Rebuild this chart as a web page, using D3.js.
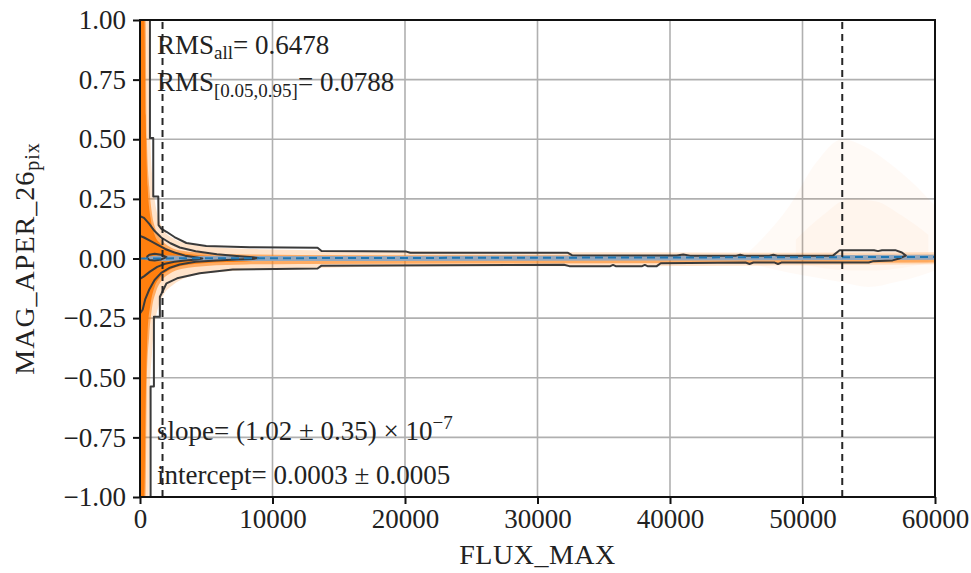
<!DOCTYPE html>
<html>
<head>
<meta charset="utf-8">
<script src="https://cdn.jsdelivr.net/npm/d3@7"></script>
<style>
  html, body { margin: 0; padding: 0; background: #fff; }
</style>
</head>
<body>
<svg id="chart" width="971" height="573"></svg>
<script>
// ---------------- data ----------------
const xTicks = [0, 10000, 20000, 30000, 40000, 50000, 60000];
const yTicks = [-1.0, -0.75, -0.5, -0.25, 0.0, 0.25, 0.5, 0.75, 1.0];
const yTickLabels = ["\u22121.00", "\u22120.75", "\u22120.50", "\u22120.25", "0.00", "0.25", "0.50", "0.75", "1.00"];

// orange density envelopes (FLUX_MAX, upper MAG, lower MAG)
const paleFlux = [0, 650, 760, 900, 1100, 1400, 1800, 2500, 3500, 5000, 7000, 9000, 13000, 20000, 35000, 50000, 60000];
const paleHi   = [1, 1, 0.55, 0.36, 0.25, 0.17, 0.12, 0.085, 0.064, 0.05, 0.043, 0.039, 0.035, 0.03, 0.026, 0.024, 0.026];
const paleLo   = [-1, -1, -0.55, -0.4, -0.28, -0.2, -0.15, -0.11, -0.08, -0.062, -0.052, -0.046, -0.04, -0.034, -0.032, -0.028, -0.024];

const midFlux = [0, 420, 520, 700, 900, 1200, 1600, 2200, 3200, 5000, 8000, 12000, 25000, 45000, 60000];
const midHi   = [1, 1, 0.5, 0.3, 0.19, 0.12, 0.08, 0.05, 0.032, 0.022, 0.017, 0.015, 0.014, 0.014, 0.016];
const midLo   = [-1, -1, -0.5, -0.32, -0.21, -0.14, -0.095, -0.065, -0.043, -0.031, -0.025, -0.023, -0.021, -0.019, -0.017];

const solidFlux = [0, 330, 430, 580, 800, 1100, 1500, 2100, 3000, 4500, 6500, 8500, 9500];
const solidHi   = [1, 1, 0.6, 0.3, 0.17, 0.1, 0.065, 0.04, 0.024, 0.014, 0.008, 0.004, 0];
const solidLo   = [-1, -1, -0.6, -0.3, -0.19, -0.12, -0.08, -0.052, -0.033, -0.021, -0.015, -0.01, 0];

// faint scatter cloud at bright fluxes
const blobFlux = [46000, 49000, 51000, 53000, 55000, 57000, 59000, 60000];
const blobHi   = [0.03, 0.22, 0.4, 0.5, 0.46, 0.38, 0.28, 0.22];
const blobLo   = [-0.02, -0.06, -0.08, -0.1, -0.12, -0.1, -0.07, -0.05];
const coreFlux = [49500, 51500, 53500, 55500, 57500, 59500];
const coreHi   = [0.08, 0.18, 0.25, 0.24, 0.18, 0.1];
const coreLo   = [-0.02, -0.04, -0.05, -0.05, -0.04, -0.02];

// blue band (binned running spread) around the fit
const bandFlux = [400, 1500, 3000, 9000, 30000, 60000];
const bandHi   = [0.006, 0.013, 0.012, 0.011, 0.012, 0.016];
const bandLo   = [-0.006, -0.012, -0.011, -0.011, -0.009, -0.005];

// linear fit line
const fitFlux = [0, 60000];
const fitMag  = [0.0003, 0.0064];

// vertical dashed limits
const limitFlux = [1700, 53000];

// density contours [FLUX_MAX, MAG]
const contour1 = [[750,1.0],[750,0.505],[1000,0.505],[1000,0.26],[1380,0.26],[1400,0.14],[1600,0.125],[2000,0.112],[2600,0.09],[3500,0.065],[5000,0.052],[8300,0.047],[13400,0.045],[13700,0.031],[20100,0.029],[20400,0.024],[32300,0.024],[32600,0.014],[40500,0.013],[41000,0.017],[41500,0.012],[45000,0.012],[45300,0.016],[45600,0.012],[47500,0.012],[47800,0.016],[48100,0.012],[52300,0.012],[52800,0.035],[55400,0.035],[55700,0.031],[56000,0.035],[57000,0.035],[57500,0.025],[57800,0.012],
  [57300,0.0],[56800,-0.008],[55300,-0.012],[55000,-0.017],[48400,-0.017],[48150,-0.023],[47900,-0.017],[46300,-0.017],[46000,-0.023],[45700,-0.017],[39300,-0.02],[39000,-0.032],[38300,-0.032],[38100,-0.027],[37900,-0.032],[35900,-0.032],[35700,-0.027],[35500,-0.032],[32400,-0.032],[32000,-0.026],[13700,-0.03],[13400,-0.042],[7000,-0.046],[4500,-0.062],[2800,-0.083],[2000,-0.104],[1600,-0.15],[1500,-0.16],[1500,-0.244],[1050,-0.244],[1050,-0.537],[800,-0.537],[800,-1.0]];
const contour2 = [[0,0.178],[300,0.17],[700,0.145],[1100,0.115],[1600,0.088],[2300,0.064],[3000,0.046],[4200,0.03],[5800,0.018],[7300,0.01],[8500,0.005],[8900,0.002],
  [8500,-0.002],[7300,-0.004],[5800,-0.008],[4200,-0.014],[3000,-0.025],[2200,-0.04],[1600,-0.06],[1100,-0.09],[700,-0.13],[400,-0.17],[200,-0.215],[0,-0.23]];
const contour3 = [[0,0.095],[300,0.088],[750,0.075],[1300,0.058],[1900,0.04],[2600,0.025],[3400,0.012],[4300,0.004],[4700,0.0],
  [4300,-0.004],[3400,-0.008],[2600,-0.014],[1900,-0.022],[1300,-0.035],[750,-0.055],[300,-0.075],[0,-0.085]];
const contour4 = [[500,0.006],[700,0.016],[1100,0.02],[1600,0.016],[2000,0.006],[1600,-0.004],[1100,-0.008],[700,-0.006],[500,0.006]];

// ---------------- drawing ----------------
const W = 971, H = 573;
const m = { left: 140, right: 36, top: 20, bottom: 76 };
const svg = d3.select("#chart");
const x = d3.scaleLinear().domain([0, 60000]).range([m.left, W - m.right]);
const y = d3.scaleLinear().domain([-1, 1]).range([H - m.bottom, m.top]);
const FONT = "'Liberation Serif', 'Times New Roman', serif";
const fs = 27;

svg.append("defs").append("clipPath").attr("id", "clip")
  .append("rect").attr("x", m.left).attr("y", m.top)
  .attr("width", W - m.left - m.right).attr("height", H - m.top - m.bottom);

// grid
const grid = svg.append("g");
grid.selectAll("line.gx").data(xTicks).join("line")
  .attr("x1", d => x(d)).attr("x2", d => x(d)).attr("y1", y(-1)).attr("y2", y(1))
  .attr("stroke", "#b0b0b0").attr("stroke-width", 1.6);
grid.selectAll("line.gy").data(yTicks).join("line")
  .attr("y1", d => y(d)).attr("y2", d => y(d)).attr("x1", x(0)).attr("x2", x(60000))
  .attr("stroke", "#b0b0b0").attr("stroke-width", 1.6);

const plot = svg.append("g").attr("clip-path", "url(#clip)");

function band(fx, hi, lo) {
  return fx.map((f, i) => ({ f, hi: hi[i], lo: lo[i] }));
}
const area = d3.area().x(d => x(d.f)).y0(d => y(d.lo)).y1(d => y(d.hi)).curve(d3.curveMonotoneX);

plot.append("path").datum(band(blobFlux, blobHi, blobLo)).attr("d", area)
  .attr("fill", "#ff7f0e").attr("opacity", 0.035);
plot.append("path").datum(band(coreFlux, coreHi, coreLo)).attr("d", area)
  .attr("fill", "#ff7f0e").attr("opacity", 0.035);
plot.append("path").datum(band(paleFlux, paleHi, paleLo)).attr("d", area)
  .attr("fill", "#ff7f0e").attr("opacity", 0.22);
plot.append("path").datum(band(midFlux, midHi, midLo)).attr("d", area)
  .attr("fill", "#ff7f0e").attr("opacity", 0.55);
plot.append("path").datum(band(solidFlux, solidHi, solidLo)).attr("d", area)
  .attr("fill", "#ff7f0e").attr("opacity", 1);

plot.append("path").datum(band(bandFlux, bandHi, bandLo)).attr("d", area)
  .attr("fill", "#8ea8c3").attr("opacity", 0.95);

// contours
const cline = d3.line().x(d => x(d[0])).y(d => y(d[1])).curve(d3.curveLinear);
[contour1, contour2, contour3, contour4].forEach(c => {
  plot.append("path").datum(c).attr("d", cline)
    .attr("fill", "none").attr("stroke", "#3a3a3a").attr("stroke-width", 2)
    .attr("stroke-linejoin", "round");
});

// fit line
plot.append("path").datum(fitFlux.map((f, i) => [f, fitMag[i]]))
  .attr("d", d3.line().x(d => x(d[0])).y(d => y(d[1])))
  .attr("stroke", "#1f77b4").attr("stroke-width", 2).attr("stroke-dasharray", "8,5").attr("fill", "none");

// vertical dashed lines
plot.selectAll("line.lim").data(limitFlux).join("line")
  .attr("x1", d => x(d)).attr("x2", d => x(d)).attr("y1", y(-1)).attr("y2", y(1))
  .attr("stroke", "#262626").attr("stroke-width", 2).attr("stroke-dasharray", "7,5");

// axes
const xAxis = d3.axisBottom(x).tickValues(xTicks).tickFormat(d3.format("d")).tickSize(7).tickPadding(5);
const yAxis = d3.axisLeft(y).tickValues(yTicks).tickFormat((d, i) => yTickLabels[i]).tickSize(7).tickPadding(7);
const gx = svg.append("g").attr("transform", `translate(0,${y(-1)})`).call(xAxis);
const gy = svg.append("g").attr("transform", `translate(${x(0)},0)`).call(yAxis);
[gx, gy].forEach(g => {
  g.attr("font-family", null).attr("font-size", null);
  g.select(".domain").remove();
  g.selectAll(".tick line").attr("stroke", "#111").attr("stroke-width", 2);
  g.selectAll(".tick text").style("font-family", FONT).style("font-size", fs + "px").attr("fill", "#222");
});

// frame
svg.append("rect").attr("x", x(0)).attr("y", y(1))
  .attr("width", x(60000) - x(0)).attr("height", y(-1) - y(1))
  .attr("fill", "none").attr("stroke", "#111").attr("stroke-width", 2);

// axis labels
svg.append("text").attr("x", (x(0) + x(60000)) / 2).attr("y", 564)
  .attr("text-anchor", "middle").style("font-family", FONT).style("font-size", "28px")
  .style("letter-spacing", "0.5px").attr("fill", "#222").text("FLUX_MAX");
const yl = svg.append("text").attr("transform", `translate(34,${(y(1) + y(-1)) / 2}) rotate(-90)`)
  .attr("text-anchor", "middle").style("font-family", FONT).style("font-size", "28px")
  .style("letter-spacing", "1px").attr("fill", "#222");
yl.append("tspan").text("MAG_APER_26");
yl.append("tspan").style("font-size", "20px").attr("dy", 5).text("pix");

// annotations
const ax0 = 157;
function ann(yy) {
  return svg.append("text").attr("x", ax0).attr("y", yy).style("font-family", FONT).style("font-size", fs + "px").attr("fill", "#222");
}
const t1 = ann(54);
t1.append("tspan").text("RMS");
t1.append("tspan").style("font-size", "19px").attr("dy", 5).text("all");
t1.append("tspan").attr("dy", -5).text("= 0.6478");

const t2 = ann(91);
t2.append("tspan").text("RMS");
t2.append("tspan").style("font-size", "19px").attr("dy", 6).text("[0.05,0.95]");
t2.append("tspan").attr("dy", -6).text("= 0.0788");

const t3 = ann(440);
t3.append("tspan").text("slope= (1.02 \u00b1 0.35) \u00d7 10");
t3.append("tspan").style("font-size", "19px").attr("dy", -11).text("\u22127");

ann(484).text("intercept= 0.0003 \u00b1 0.0005");
</script>
</body>
</html>
